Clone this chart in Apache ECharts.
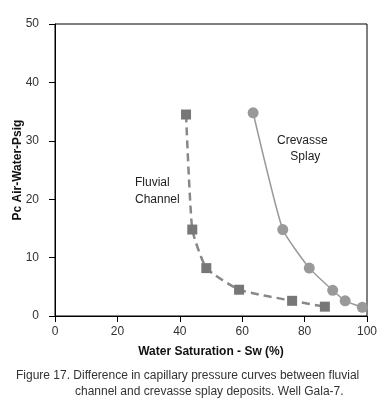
<!DOCTYPE html>
<html>
<head>
<meta charset="utf-8">
<script src="https://cdn.jsdelivr.net/npm/echarts@6/dist/echarts.min.js"></script>
<style>
html, body { margin: 0; padding: 0; background: #fff; }
#chart { width: 385px; height: 404px; }
</style>
</head>
<body>
<div id="chart"></div>
<script>
// Fluvial channel (squares, dashed)
const fluvialSw = [42, 44, 48.5, 59, 76, 86.5]
const fluvialPc = [34.5, 14.8, 8.2, 4.5, 2.6, 1.6]
// Crevasse splay (circles, solid)
const crevasseSw = [63.5, 73, 81.5, 89, 93, 98.5]
const crevassePc = [34.8, 14.8, 8.2, 4.4, 2.6, 1.5]

const xTicks = [0, 20, 40, 60, 80, 100]
const yTicks = [0, 10, 20, 30, 40, 50]

const chart = echarts.init(document.getElementById('chart'))

const axisCommon = {
  axisLine: { show: true, lineStyle: { color: '#000', width: 1 } },
  axisTick: { show: true, inside: false, length: 6, lineStyle: { color: '#000' } },
  splitLine: { show: false },
  axisLabel: { color: '#333', fontSize: 12, fontFamily: 'Liberation Sans' }
}

const option = {
  animation: false,
  grid: {
    left: 55, top: 24, right: 18, bottom: 88,
    outerBoundsMode: 'none', containLabel: false,
    show: true, borderColor: '#000', borderWidth: 1
  },
  xAxis: {
    type: 'value',
    min: xTicks[0],
    max: xTicks[xTicks.length - 1],
    interval: 20,
    name: 'Water Saturation - Sw (%)',
    nameLocation: 'middle',
    nameGap: 30,
    nameTextStyle: { color: '#111', fontSize: 12, fontWeight: 'bold', fontFamily: 'Liberation Sans' },
    ...axisCommon,
    axisLabel: { ...axisCommon.axisLabel, margin: 10 }
  },
  yAxis: {
    type: 'value',
    min: yTicks[0],
    max: yTicks[yTicks.length - 1],
    interval: 10,
    name: 'Pc Air-Water-Psig',
    nameLocation: 'middle',
    nameGap: 31,
    nameMoveOverlap: false,
    nameTextStyle: { color: '#111', fontSize: 12, fontWeight: 'bold', fontFamily: 'Liberation Sans' },
    ...axisCommon,
    axisLabel: { ...axisCommon.axisLabel, margin: 16 }
  },
  series: [
    {
      name: 'Fluvial Channel',
      type: 'line',
      data: fluvialSw.map((sw, i) => [sw, fluvialPc[i]]),
      symbol: 'rect',
      symbolSize: 10,
      itemStyle: { color: '#777' },
      lineStyle: { color: '#888', width: 2.5, type: [8, 5] },
      smooth: 0.15
    },
    {
      name: 'Crevasse Splay',
      type: 'line',
      data: crevasseSw.map((sw, i) => [sw, crevassePc[i]]),
      symbol: 'circle',
      symbolSize: 11,
      itemStyle: { color: '#999' },
      lineStyle: { color: '#999', width: 1.5 },
      smooth: 0.15
    }
  ],
  graphic: [
    {
      type: 'text', left: 135, top: 174,
      style: { text: 'Fluvial\nChannel', fill: '#222', font: '12px "Liberation Sans"', lineHeight: 17 }
    },
    {
      type: 'text', left: 277, top: 133,
      style: { text: 'Crevasse\n    Splay', fill: '#222', font: '12px "Liberation Sans"', lineHeight: 16 }
    },
    {
      type: 'text', left: 16, top: 370,
      style: { text: 'Figure 17. Difference in capillary pressure curves between fluvial', fill: '#333', font: '12px "Liberation Sans"' }
    },
    {
      type: 'text', left: 75, top: 386,
      style: { text: 'channel and crevasse splay deposits. Well Gala-7.', fill: '#333', font: '12px "Liberation Sans"' }
    }
  ]
}

chart.setOption(option)
</script>
</body>
</html>
